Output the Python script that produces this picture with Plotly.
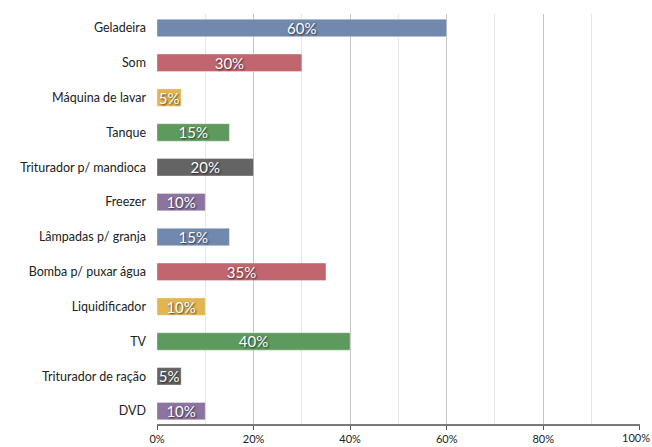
import plotly.graph_objects as go

categories = ["Geladeira", "Som", "Máquina de lavar", "Tanque", "Triturador p/ mandioca",
              "Freezer", "Lâmpadas p/ granja", "Bomba p/ puxar água", "Liquidificador", "TV",
              "Triturador de ração", "DVD"]
values = [60, 30, 5, 15, 20, 10, 15, 35, 10, 40, 5, 10]
tick_vals = [0, 0.2, 0.4, 0.6, 0.8, 1.0]
tick_text = ["0%", "20%", "40%", "60%", "80%", "100%"]
palette = ["#7089ad", "#c1656f", "#e2b551", "#5e9a5e", "#646464", "#8c73a0"]

colors = [palette[i % len(palette)] for i in range(len(categories))]
cats_r = categories[::-1]
vals_r = [v / 100 for v in values[::-1]]
cols_r = colors[::-1]

fig = go.Figure(go.Bar(
    y=cats_r, x=vals_r, orientation="h",
    marker=dict(color=cols_r, line=dict(color="rgba(255,255,255,0.35)", width=1)),
    text=[f"{v}%" for v in values[::-1]],
    textposition="inside", insidetextanchor="middle", constraintext="none",
    textfont=dict(color="white", size=15, family="Lato", shadow="1px 1px 2px rgba(0,0,0,0.7)"),
    width=0.5,
))

# last tick label placed as annotation so it stays inside the page
shown_text = tick_text[:-1] + [""]
fig.add_annotation(x=tick_vals[-1], xref="x", y=0, yref="paper", yanchor="top",
                   xanchor="right", xshift=12, yshift=-5, showarrow=False,
                   text=tick_text[-1], font=dict(size=11, color="#222", family="Lato"))

fig.update_layout(
    width=652, height=447,
    margin=dict(l=157, r=12, t=14, b=23),
    plot_bgcolor="white", paper_bgcolor="white",
    font=dict(family="Lato", color="#222", size=12),
    showlegend=False,
    xaxis=dict(range=[0, 1.0005], tickvals=tick_vals, ticktext=shown_text, showgrid=True,
               gridcolor="#c4c4c4", gridwidth=1,
               minor=dict(dtick=0.1, showgrid=True, gridcolor="#e6e6e6", gridwidth=1),
               showline=True, linecolor="#7a7a7a", linewidth=2,
               ticks="outside", ticklen=4, tickcolor="#555",
               tickfont=dict(size=11, color="#222"), zeroline=False,
               ticklabeloverflow="allow",
               automargin=False, fixedrange=True),
    yaxis=dict(range=[-0.37, 11.4], showgrid=False, ticks="", ticklabelstandoff=10,
               tickfont=dict(size=12.5, color="#222"), showline=False, automargin=False),
)

fig.write_html("out.html")
